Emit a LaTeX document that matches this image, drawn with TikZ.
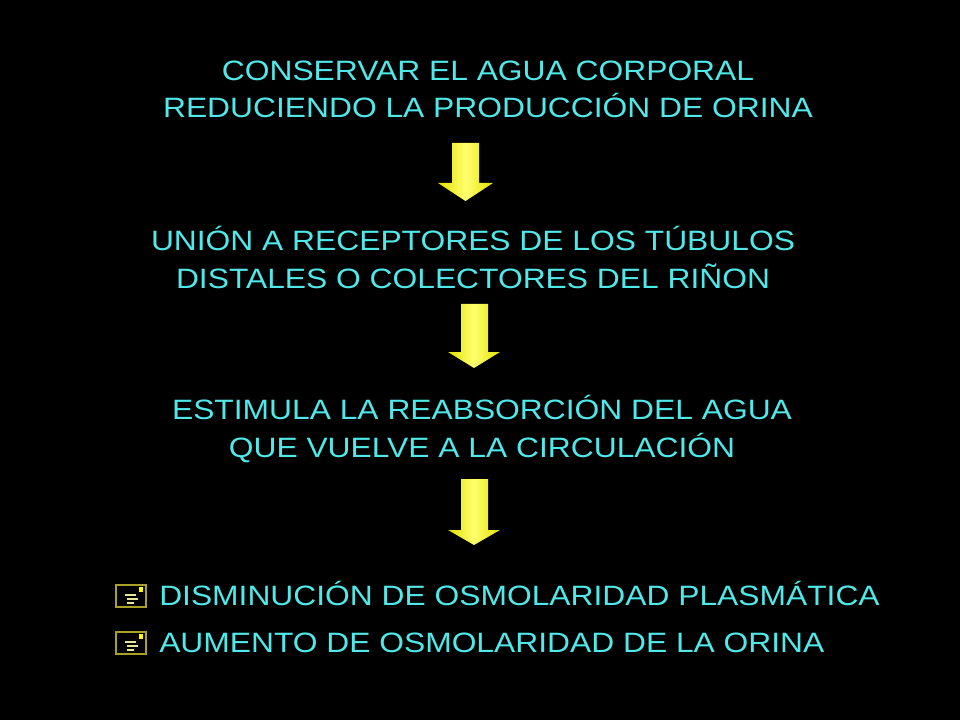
\documentclass[tikz,border=0pt]{standalone}
\usepackage{fontspec}
\setmainfont[FakeStretch=1.135]{Liberation Sans}
\usepackage{xcolor}
\definecolor{textcyan}{RGB}{80,232,232}
\definecolor{arrowedge}{RGB}{225,225,0}
\definecolor{arrowmid}{RGB}{255,255,110}
\definecolor{iconedge}{RGB}{170,160,40}
\definecolor{iconline}{RGB}{230,230,150}
\definecolor{iconmark}{RGB}{255,255,0}
\tikzset{
  slideline/.style={text=textcyan, font=\fontsize{21}{28.3}\selectfont, align=center, inner sep=0pt, anchor=base},
  listline/.style={text=textcyan, font=\fontsize{21}{28.3}\selectfont, inner sep=0pt, anchor=base west},
  downarrow/.style={left color=arrowedge, right color=arrowedge, middle color=arrowmid},
}

\begin{document}
\begin{tikzpicture}[x=0.75pt,y=-0.75pt]
\fill[black] (0,0) rectangle (960,720);
\node[slideline] (conservar) at (488,118) {CONSERVAR EL AGUA CORPORAL\\REDUCIENDO LA PRODUCCIÓN DE ORINA};
\node[slideline] (union) at (473,288) {UNIÓN A RECEPTORES DE LOS TÚBULOS\\DISTALES O COLECTORES DEL RIÑON};
\node[slideline] (estimula) at (482,457) {ESTIMULA LA REABSORCIÓN DEL AGUA\\QUE VUELVE A LA CIRCULACIÓN};
\fill[downarrow] (452,143) -- (479,143) -- (479,183) -- (493,183) -- (465.5,201) -- (438,183) -- (452,183) -- cycle;
\fill[downarrow] (461,304) -- (488,304) -- (488,352) -- (500,352) -- (474,368) -- (448,352) -- (461,352) -- cycle;
\fill[downarrow] (461,479) -- (488,479) -- (488,530) -- (500,530) -- (474,545) -- (448,530) -- (461,530) -- cycle;
% bullets
\draw[iconedge,line width=1pt] (116,585) rectangle (146,607);
\fill[iconmark] (139,587) rectangle (143,592);
\draw[iconline,line width=0.8pt] (125,595) -- (136,595) (127,599) -- (138,599) (127,603) -- (134,603);
\node[listline] (disminucion) at (159,605) {DISMINUCIÓN DE OSMOLARIDAD PLASMÁTICA};
\draw[iconedge,line width=1pt] (116,632) rectangle (146,654);
\fill[iconmark] (139,634) rectangle (143,639);
\draw[iconline,line width=0.8pt] (125,642) -- (136,642) (127,646) -- (138,646) (127,650) -- (134,650);
\node[listline] (aumento) at (159,652) {AUMENTO DE OSMOLARIDAD DE LA ORINA};
\end{tikzpicture}
\end{document}
